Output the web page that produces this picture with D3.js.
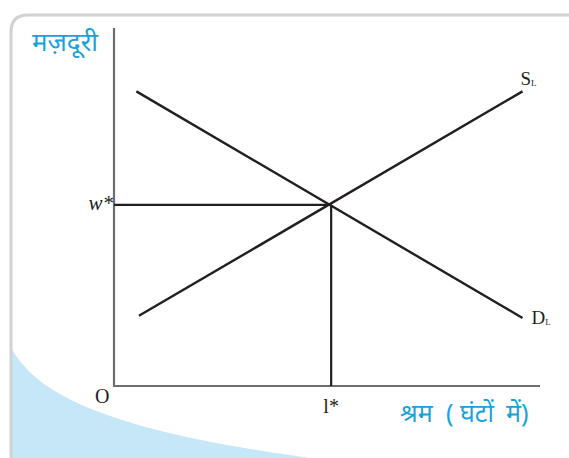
<!DOCTYPE html>
<html>
<head>
<meta charset="utf-8">
<script src="https://cdn.jsdelivr.net/npm/d3@7"></script>
<style>
  html, body { margin: 0; padding: 0; background: #fff; }
  svg { display: block; }
  .serif { font-family: "Liberation Serif", "DejaVu Serif", serif; fill: #231f20; }
  .hindi { font-family: "Noto Sans", "Noto Sans Devanagari", "Lohit Devanagari", sans-serif; fill: #1ba1dc; }
</style>
</head>
<body>
<svg id="chart" width="569" height="458"></svg>
<script>
// labour market: wage vs hours of labour
const yTitle = "मज़दूरी";
const xTitleParts = ["श्रम", "(", "घंटों", "में)"];

// line endpoints in chart units (0..100 on both axes)
const demandLine = [[5.2, 82.3], [95.0, 19.0]];
const supplyLine = [[5.8, 19.6], [95.0, 82.3]];
const equilibrium = [50.5, 50.6];
const eqLabels = { x: "l*", y: "w*" };

const width = 569, height = 458;
const svg = d3.select("#chart");

// scales
const x = d3.scaleLinear().domain([0, 100]).range([114, 544]);
const y = d3.scaleLinear().domain([0, 100]).range([386, 28]);

// frame + blue swoosh
svg.append("path")
  .attr("d", "M10,345 C35,398 120,432 310,458 L10,458 Z")
  .attr("fill", "#c6e7f7");

svg.append("path")
  .attr("d", "M11,458 L11,32 Q11,15 28,15 L569,15")
  .attr("fill", "none")
  .attr("stroke", "#d2d2d2")
  .attr("stroke-width", 3);

// axes
svg.append("line")
  .attr("x1", x(0)).attr("y1", y(0))
  .attr("x2", x(0)).attr("y2", y(100))
  .attr("stroke", "#6d6e71").attr("stroke-width", 2.2);

svg.append("line")
  .attr("x1", x(0) - 1).attr("y1", y(0))
  .attr("x2", 540).attr("y2", y(0))
  .attr("stroke", "#6d6e71").attr("stroke-width", 2.2);

// guides to equilibrium
svg.append("line")
  .attr("x1", x(0)).attr("y1", y(equilibrium[1]))
  .attr("x2", x(equilibrium[0])).attr("y2", y(equilibrium[1]))
  .attr("stroke", "#231f20").attr("stroke-width", 2.2);

svg.append("line")
  .attr("x1", x(equilibrium[0])).attr("y1", y(equilibrium[1]))
  .attr("x2", x(equilibrium[0])).attr("y2", y(0))
  .attr("stroke", "#231f20").attr("stroke-width", 2.2);

// demand + supply
const line = d3.line().x(d => x(d[0])).y(d => y(d[1]));
[demandLine, supplyLine].forEach(pts => {
  svg.append("path")
    .attr("d", line(pts))
    .attr("fill", "none")
    .attr("stroke", "#231f20")
    .attr("stroke-width", 2.4);
});

// labels
const sEnd = supplyLine[1], dEnd = demandLine[1];

const sLab = svg.append("text").attr("class", "serif")
  .attr("x", x(sEnd[0]) - 2).attr("y", y(sEnd[1]) - 6)
  .attr("font-size", 19);
sLab.append("tspan").text("S");
sLab.append("tspan").attr("font-size", 9).attr("dy", 1).text("L");

const dLab = svg.append("text").attr("class", "serif")
  .attr("x", x(dEnd[0]) + 9).attr("y", y(dEnd[1]) + 6)
  .attr("font-size", 19);
dLab.append("tspan").text("D");
dLab.append("tspan").attr("font-size", 9).attr("dy", 1).text("L");

svg.append("text").attr("class", "serif")
  .attr("x", x(0) - 19).attr("y", y(0) + 17)
  .attr("font-size", 20)
  .text("O");

svg.append("text").attr("class", "serif")
  .attr("x", x(equilibrium[0])).attr("y", y(0) + 27)
  .attr("text-anchor", "middle")
  .attr("font-size", 20)
  .text(eqLabels.x);

svg.append("text").attr("class", "serif")
  .attr("x", x(0) - 1).attr("y", y(equilibrium[1]) + 5)
  .attr("text-anchor", "end")
  .attr("font-size", 21)
  .attr("font-style", "italic")
  .text(eqLabels.y);

svg.append("text").attr("class", "hindi")
  .attr("x", 32).attr("y", 51)
  .attr("font-size", 26)
  .text(yTitle);

// x title, pieces placed with the wide gaps of the original
const xPos = [400, 446, 460, 506];
svg.append("g").selectAll("text")
  .data(xTitleParts)
  .join("text")
  .attr("class", "hindi")
  .attr("x", (d, i) => xPos[i])
  .attr("y", 422)
  .attr("font-size", 25)
  .text(d => d);
</script>
</body>
</html>
